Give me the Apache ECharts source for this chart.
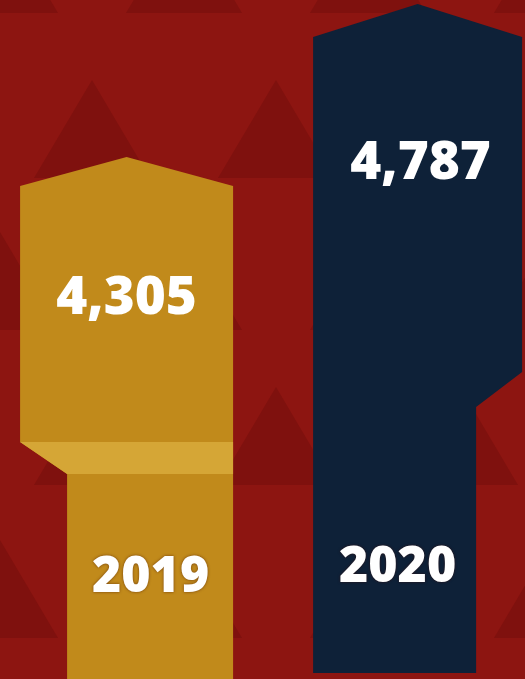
<!DOCTYPE html>
<html>
<head>
<meta charset="utf-8">
<title>2019 vs 2020</title>
<script src="https://cdn.jsdelivr.net/npm/echarts@6/dist/echarts.min.js"></script>
<style>
  html, body { margin: 0; padding: 0; background: #8d1511; }
  #main { width: 525px; height: 679px; }
</style>
</head>
<body>
<div id="main"></div>
<script>
  'use strict';

  // data
  var years = ['2019', '2020'];
  var counts = [4305, 4787];

  // pencil outline for each bar, in px relative to its peak (cx, py)
  var pencil = [
    { half: 106.5, shoulder: 29, cut: 285, band: 32, narrowL: -59.5, narrowR: 106.5, bottom: 679,
      fill: '#c18a1b', bandFill: '#d5a636', label: [0, 142], year: [24, 421] },
    { half: 104.5, shoulder: 33, cut: 368, band: 35, narrowL: -104.5, narrowR: 58.5, bottom: 673,
      fill: '#0e2138', bandFill: null, label: [3, 160], year: [-20, 564] }
  ];

  function fmt(v) {
    return v.toLocaleString('en-US');
  }

  // background: rows of darker triangles
  var tri = [];
  var rows = [-85, 80, 232, 387, 540, 695];
  rows.forEach(function (top, r) {
    var off = (r % 2 === 0) ? 0 : 92;
    for (var x = off - 184; x < 525 + 184; x += 184) {
      tri.push({
        type: 'polygon',
        shape: { points: [[x, top], [x + 58, top + 98], [x - 58, top + 98]] },
        style: { fill: '#7f110e' },
        silent: true
      });
    }
  });

  function renderPencil(params, api) {
    var i = api.value(0);
    var p = api.coord([i, api.value(1)]);
    var cx = p[0], py = p[1];
    var g = pencil[i];
    var L = cx - g.half, R = cx + g.half;
    var yS = py + g.shoulder, yC = py + g.cut, yB = yC + g.band;
    var nL = cx + g.narrowL, nR = cx + g.narrowR;
    var pts = [[L, yS], [cx, py], [R, yS], [R, yC], [nR, yB], [nR, g.bottom],
               [nL, g.bottom], [nL, yB], [L, yC]];
    var kids = [{
      type: 'polygon',
      shape: { points: pts },
      style: { fill: g.fill }
    }];
    if (g.bandFill) {
      kids.push({
        type: 'polygon',
        shape: { points: [[L, yC], [R, yC], [nR, yB], [nL, yB]] },
        style: { fill: g.bandFill }
      });
    }
    kids.push({
      type: 'text',
      style: {
        text: fmt(counts[i]), x: cx + g.label[0], y: py + g.label[1],
        align: 'center', verticalAlign: 'middle',
        fill: '#ffffff', fontSize: 53, fontWeight: 800, fontFamily: '"Open Sans", sans-serif'
      }
    });
    kids.push({
      type: 'text',
      style: {
        text: years[i], x: cx + g.year[0], y: py + g.year[1],
        align: 'center', verticalAlign: 'middle',
        fill: '#ffffff', fontSize: 50, fontWeight: 800, fontFamily: '"Open Sans", sans-serif',
        textShadowColor: 'rgba(60,10,0,0.6)', textShadowBlur: 3
      }
    });
    return { type: 'group', children: kids };
  }

  var chart = echarts.init(document.getElementById('main'));
  chart.setOption({
    backgroundColor: '#8d1511',
    animation: false,
    graphic: { elements: tri },
    grid: { left: 0, right: 0, top: 0, bottom: 0 },
    // index axis: 0 and 1 land at the two pencil centres
    xAxis: { type: 'value', min: -0.435, max: 1.369, show: false },
    yAxis: { type: 'value', min: 2660, max: 4800, show: false },
    series: [{
      type: 'custom',
      renderItem: renderPencil,
      data: years.map(function (y, i) { return [i, counts[i]]; }),
      encode: { x: 0, y: 1 }
    }]
  });
  window.onresize = chart.resize;
</script>
</body>
</html>
